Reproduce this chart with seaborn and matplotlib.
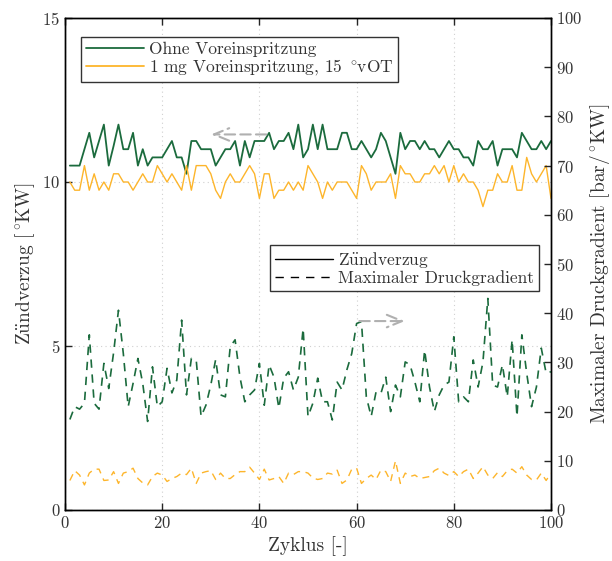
import matplotlib

matplotlib.use("Agg")
import matplotlib.pyplot as plt
import pandas as pd
import seaborn as sns
from matplotlib.lines import Line2D


cycles = list(range(1, 101))

# Zündverzug [°KW], left axis
zv_ohne = [
    10.5, 10.5, 10.5, 11.0, 11.5, 10.75, 11.25, 11.75, 10.5, 11.1,
    11.75, 11.0, 11.0, 11.5, 10.5, 11.0, 10.5, 10.75, 10.75, 10.75,
    11.0, 11.25, 10.75, 10.75, 10.25, 11.25, 11.25, 11.0, 11.0, 11.0,
    10.5, 10.75, 11.0, 11.0, 11.25, 10.5, 11.25, 10.75, 11.25, 11.25,
    11.25, 11.5, 11.0, 11.25, 11.25, 11.5, 11.0, 11.75, 10.75, 11.0,
    11.75, 11.0, 11.75, 11.0, 11.0, 11.0, 11.5, 11.5, 11.0, 11.0,
    11.25, 11.0, 10.75, 11.0, 11.5, 11.25, 10.75, 10.25, 11.5, 11.0,
    11.25, 11.25, 11.0, 11.25, 11.0, 11.0, 10.75, 11.0, 11.25, 11.0,
    11.0, 10.75, 10.75, 10.5, 11.25, 11.0, 11.0, 11.25, 10.5, 11.0,
    11.0, 11.0, 10.75, 11.5, 11.25, 11.0, 11.0, 11.25, 11.0, 11.25,
]
zv_vor = [
    10.0, 9.75, 9.75, 10.5, 9.75, 10.25, 9.75, 10.0, 9.75, 10.25,
    10.25, 10.0, 10.0, 9.75, 10.0, 10.25, 10.0, 10.0, 10.5, 10.25,
    10.0, 10.25, 10.0, 9.75, 10.5, 9.75, 10.5, 10.5, 10.5, 10.25,
    9.75, 9.5, 10.0, 10.25, 10.0, 10.0, 10.25, 10.5, 10.25, 9.5,
    10.25, 10.25, 9.5, 9.75, 9.75, 10.0, 9.75, 10.0, 9.75, 10.5,
    10.25, 10.0, 9.5, 10.0, 9.75, 10.0, 10.0, 10.0, 9.75, 9.5,
    10.5, 10.25, 9.75, 10.0, 10.0, 10.0, 10.25, 9.5, 10.5, 10.25,
    10.25, 10.0, 10.0, 10.25, 10.25, 10.5, 10.25, 10.5, 10.0, 10.5,
    10.0, 10.25, 10.0, 10.0, 9.75, 9.25, 9.75, 9.75, 10.25, 10.0,
    10.0, 10.5, 9.75, 9.75, 10.75, 10.25, 10.0, 10.25, 10.5, 9.5,
]

# Maximaler Druckgradient [bar/°KW], right axis
dp_ohne = [
    18.4, 21.0, 20.5, 21.7, 35.6, 21.7, 20.5, 29.8, 24.7, 32.0,
    40.6, 31.8, 21.0, 25.7, 30.8, 25.7, 18.0, 29.1, 21.0, 22.0,
    28.8, 23.8, 26.4, 38.6, 23.4, 30.8, 30.5, 19.0, 21.3, 25.4,
    30.6, 23.4, 23.0, 33.2, 34.6, 27.0, 22.0, 23.4, 24.4, 29.8,
    21.3, 29.5, 27.0, 20.7, 26.8, 28.1, 24.4, 27.0, 36.9, 19.0,
    21.7, 26.8, 22.0, 22.0, 18.3, 26.0, 24.4, 28.5, 31.8, 37.9,
    38.3, 23.0, 19.0, 24.0, 23.7, 27.0, 20.0, 25.4, 23.0, 30.1,
    29.5, 26.0, 22.0, 32.5, 25.0, 20.0, 23.4, 25.4, 26.0, 35.2,
    22.0, 23.0, 22.0, 30.5, 25.0, 30.1, 43.0, 25.4, 25.0, 29.5,
    23.0, 34.6, 19.0, 35.6, 27.8, 21.0, 25.0, 32.9, 27.8, 28.1,
]
dp_vor = [
    6.0, 8.0, 7.1, 5.1, 7.5, 8.3, 8.3, 6.0, 6.1, 7.8,
    5.4, 7.5, 7.8, 8.5, 6.4, 5.5, 5.1, 6.8, 7.5, 7.1,
    5.8, 6.4, 6.8, 7.5, 7.2, 8.5, 5.4, 7.5, 7.8, 8.0,
    6.2, 7.5, 6.4, 6.4, 7.2, 7.8, 7.8, 8.7, 7.5, 6.2,
    8.3, 6.1, 6.4, 6.8, 5.4, 7.5, 7.2, 7.8, 7.8, 7.5,
    6.5, 6.2, 6.4, 7.5, 7.3, 8.1, 5.4, 6.1, 8.3, 8.5,
    5.4, 6.4, 7.1, 6.2, 8.1, 7.8, 5.8, 10.0, 5.4, 7.5,
    6.8, 7.1, 6.4, 6.6, 6.8, 8.0, 8.5, 7.5, 7.0, 7.8,
    6.8, 7.8, 8.3, 6.4, 7.5, 8.8, 7.1, 6.4, 7.6, 6.8,
    8.0, 8.3, 7.5, 8.8, 7.1, 6.2, 6.1, 7.5, 6.0, 7.5,
]

GREEN = "#1b6b3d"
ORANGE = "#fdb52b"
TEXT = "#333333"
DASH = (5, 4)

sns.set_style("ticks")
plt.rcParams["font.family"] = ["cmr10", "DejaVu Serif"]
plt.rcParams["mathtext.fontset"] = "cm"
plt.rcParams["axes.unicode_minus"] = False
plt.rcParams["axes.formatter.use_mathtext"] = True

# cmr10 has no umlaut/degree glyphs -> build them with mathtext
DEG = r"$^\circ\!$"
ZV = r"Z$\mathrm{\ddot{u}}$ndverzug"

df = pd.DataFrame(
    {"cycle": cycles, "zv_ohne": zv_ohne, "zv_vor": zv_vor,
     "dp_ohne": dp_ohne, "dp_vor": dp_vor}
)

fig = plt.figure(figsize=(6.12, 5.61), dpi=100)
ax = fig.add_axes([65 / 612, 1 - 510 / 561, 486 / 612, 492 / 561])
ax2 = ax.twinx()

sns.lineplot(data=df, x="cycle", y="zv_ohne", ax=ax, color=GREEN, lw=1.3)
sns.lineplot(data=df, x="cycle", y="zv_vor", ax=ax, color=ORANGE, lw=1.0)
sns.lineplot(data=df, x="cycle", y="dp_ohne", ax=ax2, color=GREEN, lw=1.2)
sns.lineplot(data=df, x="cycle", y="dp_vor", ax=ax2, color=ORANGE, lw=1.0)
for line in ax2.get_lines():
    line.set_dashes(DASH)

ax.set_xlim(0, 100)
ax.set_ylim(0, 15)
ax2.set_ylim(0, 100)
ax.set_xticks(range(0, 101, 20))
ax.set_yticks([0, 5, 10, 15])
ax2.set_yticks(range(0, 101, 10))

ax.grid(True, color="#d0d0d0", ls=(0, (1, 3)), lw=0.8)
ax.tick_params(direction="in", length=5, width=1, labelsize=12, top=True, right=False)
ax2.tick_params(direction="in", length=5, width=1, labelsize=12)
for a in (ax, ax2):
    for s in a.spines.values():
        s.set_linewidth(1.0)
        s.set_color("black")

ax.set_xlabel("Zyklus [-]", fontsize=14, color=TEXT)
ax.set_ylabel(ZV + " [" + DEG + "KW]", fontsize=14, color=TEXT)
ax2.set_ylabel("Maximaler Druckgradient [bar/" + DEG + "KW]", fontsize=14, color=TEXT)
for lab in ax.get_xticklabels() + ax.get_yticklabels() + ax2.get_yticklabels():
    lab.set_color(TEXT)

# direction arrows
arrow_kw = dict(arrowstyle="->,head_length=1.1,head_width=0.45",
                color="#b0b0b0", lw=1.5, ls=(0, (5, 2.5)))
ax.annotate("", xy=(29.5, 11.45), xytext=(42, 11.45), arrowprops=arrow_kw)
ax2.annotate("", xy=(70.5, 38.4), xytext=(60, 38.4), arrowprops=arrow_kw)

leg_kw = dict(fontsize=12.5, frameon=True, fancybox=False, framealpha=1,
              edgecolor=TEXT, borderaxespad=0, handlelength=3.3,
              labelspacing=0.0, borderpad=0.3, handletextpad=0.3,
              labelcolor=TEXT)
h1 = [Line2D([], [], color=GREEN, lw=1.3), Line2D([], [], color=ORANGE, lw=1.3)]
leg1 = ax2.legend(h1, ["Ohne Voreinspritzung", "1 mg Voreinspritzung, 15 " + DEG + "vOT"],
                  loc="upper left", bbox_to_anchor=(0.033, 0.962), **leg_kw)
leg1.get_frame().set_linewidth(1.0)
ax2.add_artist(leg1)
h2 = [Line2D([], [], color="black", lw=1.0),
      Line2D([], [], color="black", lw=1.0, dashes=(6, 5))]
leg2 = ax2.legend(h2, [ZV, "Maximaler Druckgradient"],
                  loc="upper left", bbox_to_anchor=(0.422, 0.539), **leg_kw)
leg2.get_frame().set_linewidth(1.0)

fig.savefig("out.png", dpi=100)
